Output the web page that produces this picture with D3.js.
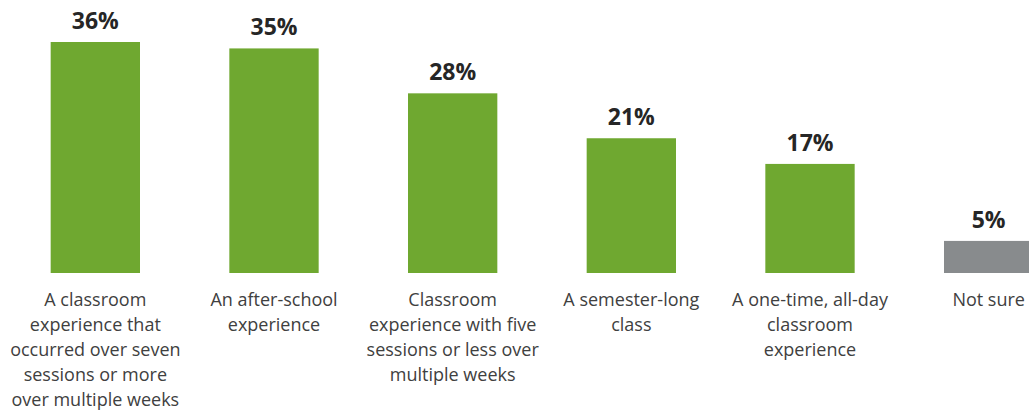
<!DOCTYPE html>
<html lang="en">
<head>
  <meta charset="UTF-8">
  <title>Chart</title>
  <script src="https://cdn.jsdelivr.net/npm/d3@7"></script>
  <style>
    html, body { margin: 0; padding: 0; background: #fff; overflow: hidden; }
  </style>
</head>
<body>
  <div id="chart"></div>
  <script>
    // data
    const categories = [
      'A classroom experience that occurred over seven sessions or more over multiple weeks',
      'An after-school experience',
      'Classroom experience with five sessions or less over multiple weeks',
      'A semester-long class',
      'A one-time, all-day classroom experience',
      'Not sure'
    ];
    const labelLines = [
      ['A classroom', 'experience that', 'occurred over seven', 'sessions or more', 'over multiple weeks'],
      ['An after-school', 'experience'],
      ['Classroom', 'experience with five', 'sessions or less over', 'multiple weeks'],
      ['A semester-long', 'class'],
      ['A one-time, all-day', 'classroom', 'experience'],
      ['Not sure']
    ];
    const values = [36, 35, 28, 21, 17, 5];
    const barColors = ['#6FA830', '#6FA830', '#6FA830', '#6FA830', '#6FA830', '#888B8D'];

    const width = 1029, height = 410;
    const baseY = 273;

    const svg = d3.select('#chart').append('svg')
      .attr('width', width)
      .attr('height', height)
      .style('font-family', '"Open Sans", sans-serif');

    // bars run past the right edge, like the original crop
    const x = d3.scaleBand()
      .domain(categories)
      .range([6, 1078])
      .paddingInner(0.5)
      .paddingOuter(0.25);

    const y = d3.scaleLinear()
      .domain([0, 36])
      .range([baseY, 42]);

    svg.append('g')
      .selectAll('rect')
      .data(values)
      .join('rect')
      .attr('x', (d, i) => x(categories[i]))
      .attr('y', d => y(d))
      .attr('width', x.bandwidth())
      .attr('height', d => baseY - y(d))
      .attr('fill', (d, i) => barColors[i]);

    // value labels
    svg.append('g')
      .selectAll('text')
      .data(values)
      .join('text')
      .attr('x', (d, i) => x(categories[i]) + x.bandwidth() / 2)
      .attr('y', d => y(d) - 13)
      .attr('text-anchor', 'middle')
      .attr('font-size', '23px')
      .attr('font-weight', 'bold')
      .attr('fill', '#262626')
      .text(d => d + '%');

    // category axis, labels split into lines
    const xAxis = d3.axisBottom(x).tickSize(0).tickPadding(0);
    const axisG = svg.append('g')
      .attr('transform', 'translate(0,' + baseY + ')')
      .call(xAxis);
    axisG.select('.domain').remove();
    axisG.selectAll('.tick text')
      .attr('font-family', '"Open Sans", sans-serif')
      .attr('font-size', '18px')
      .attr('fill', '#404040')
      .attr('dy', null)
      .attr('y', 33)
      .each(function (d, i) {
        const t = d3.select(this).text(null);
        labelLines[i].forEach((line, j) => {
          t.append('tspan')
            .attr('x', 0)
            .attr('y', 33 + j * 25)
            .text(line);
        });
      });
  </script>
</body>
</html>
